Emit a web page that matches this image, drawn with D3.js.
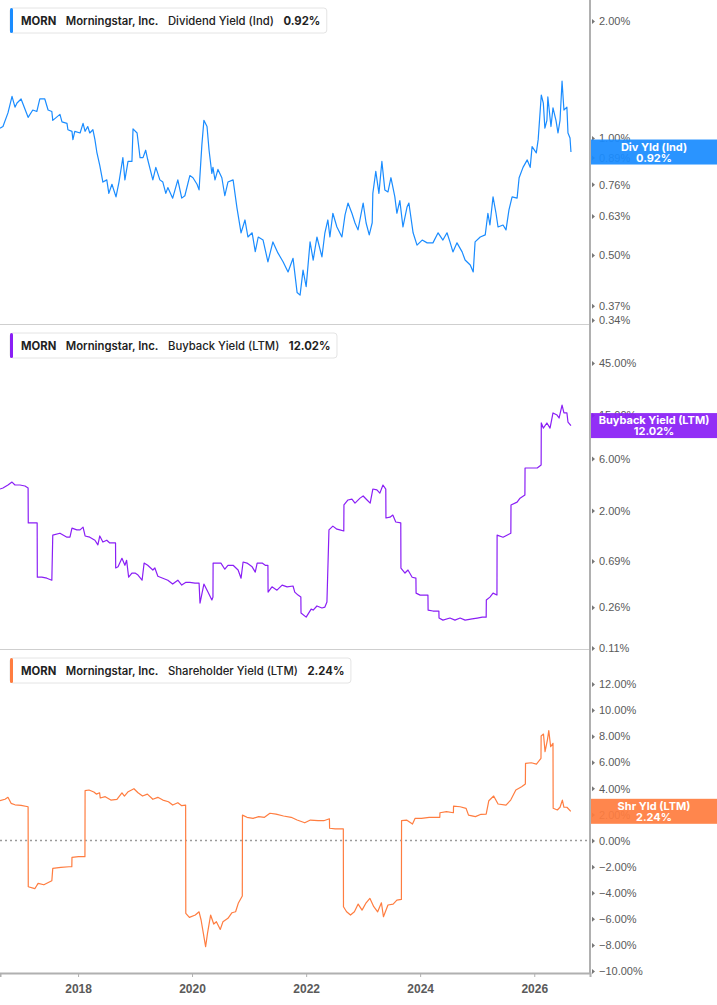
<!DOCTYPE html>
<html lang="en">
<head>
	<meta charset="UTF-8"/>
	<title>MORN Yields</title>
	<script src="https://d3js.org/d3.v7.min.js"></script>
	<style>
		body {
			margin: 0;
			background: #fff;
			font-family: Inter, Roboto, "Noto Sans", sans-serif;
		}
		.tick-label text {
			font-size: 11px;
			fill: #5a5a5a;
		}
		.x-axis text {
			font-size: 12px;
			font-weight: 700;
			fill: #5a5a5a;
		}
		.series {
			fill: none;
			stroke-width: 1.2;
			stroke-linejoin: round;
		}
	</style>
</head>
<body>
<div id="chart"></div>
<script>
	// --- data ----------------------------------------------------------
	var divYield = [
		["2016-08-19",1.06],["2016-09-07",1.07],["2016-10-09",1.16],["2016-11-04",1.28],["2016-11-23",1.20],["2016-12-06",1.23],
		["2017-01-01",1.26],["2017-02-15",1.13],["2017-03-17",1.18],["2017-04-12",1.17],["2017-05-01",1.26],["2017-06-02",1.26],
		["2017-06-23",1.18],["2017-07-17",1.17],["2017-07-23",1.11],["2017-09-07",1.15],["2017-09-20",1.10],["2017-10-22",1.09],
		["2017-10-28",1.05],["2017-11-23",1.04],["2017-11-29",0.99],["2017-12-11",1.04],
		["2018-01-14",1.03],["2018-02-02",1.09],["2018-02-15",1.04],["2018-03-04",1.07],["2018-03-17",1.03],["2018-04-06",1.05],
		["2018-04-19",0.99],["2018-05-01",0.92],["2018-05-20",0.85],["2018-06-09",0.77],["2018-07-04",0.78],["2018-07-17",0.72],
		["2018-08-06",0.76],["2018-09-01",0.705],["2018-09-20",0.77],["2018-10-15",0.89],["2018-10-28",0.78],["2018-11-17",0.87],
		["2018-12-12",0.87],["2018-12-19",1.055],
		["2019-01-14",1.03],["2019-02-02",0.89],["2019-02-21",0.89],["2019-03-10",0.93],["2019-03-23",0.88],["2019-04-25",0.78],
		["2019-05-14",0.84],["2019-06-09",0.78],["2019-06-28",0.77],["2019-07-17",0.72],["2019-07-30",0.745],["2019-08-30",0.70],
		["2019-10-02",0.78],["2019-10-27",0.70],["2019-11-16",0.71],["2019-12-18",0.80],
		["2020-01-07",0.79],["2020-02-02",0.76],["2020-02-15",0.735],["2020-03-04",0.96],["2020-03-17",1.11],["2020-04-06",1.07],
		["2020-04-19",0.93],["2020-05-07",0.81],["2020-05-14",0.84],["2020-05-27",0.78],["2020-06-15",0.83],["2020-07-10",0.79],
		["2020-07-29",0.71],["2020-08-18",0.77],["2020-09-20",0.78],["2020-10-15",0.66],["2020-11-10",0.57],["2020-12-05",0.615],
		["2020-12-24",0.556],
		["2021-01-20",0.57],["2021-02-09",0.51],["2021-02-28",0.556],["2021-03-31",0.546],["2021-05-01",0.48],["2021-06-02",0.54],
		["2021-07-04",0.506],["2021-08-06",0.48],["2021-09-07",0.452],["2021-10-09",0.49],["2021-11-04",0.40],["2021-11-23",0.394],
		["2021-12-12",0.457],
		["2022-01-01",0.414],["2022-01-26",0.54],["2022-02-15",0.485],["2022-03-11",0.556],["2022-04-12",0.494],["2022-05-01",0.57],
		["2022-05-20",0.615],["2022-06-02",0.556],["2022-06-21",0.64],["2022-07-17",0.59],["2022-08-18",0.556],["2022-09-07",0.634],
		["2022-09-26",0.68],["2022-10-21",0.64],["2022-11-10",0.604],["2022-11-29",0.58],
		["2023-01-01",0.68],["2023-01-20",0.604],["2023-02-09",0.563],["2023-02-28",0.605],["2023-03-04",0.72],["2023-03-23",0.82],
		["2023-04-12",0.72],["2023-05-01",0.87],["2023-05-20",0.735],["2023-06-09",0.726],["2023-06-28",0.79],["2023-07-23",0.705],
		["2023-08-05",0.64],["2023-08-24",0.69],["2023-09-13",0.59],["2023-10-09",0.664],["2023-10-21",0.68],["2023-11-17",0.57],
		["2023-12-12",0.53],
		["2024-01-14",0.546],["2024-02-15",0.537],["2024-03-23",0.537],["2024-04-25",0.57],["2024-05-26",0.546],["2024-06-21",0.57],
		["2024-07-10",0.54],["2024-07-29",0.509],["2024-08-24",0.537],["2024-09-26",0.509],["2024-10-15",0.485],["2024-11-17",0.471],
		["2024-12-06",0.452],["2024-12-18",0.54],
		["2025-01-20",0.556],["2025-02-21",0.563],["2025-03-10",0.64],["2025-03-23",0.597],["2025-04-12",0.705],["2025-05-01",0.64],
		["2025-05-14",0.59],["2025-06-15",0.597],["2025-07-04",0.58],["2025-07-23",0.653],["2025-08-12",0.705],["2025-09-13",0.70],
		["2025-09-26",0.79],["2025-10-21",0.84],["2025-11-17",0.878],["2025-12-06",0.84],["2025-12-18",0.95],
		["2026-01-14",0.915],["2026-01-26",0.99],["2026-02-15",1.29],["2026-02-28",1.23],["2026-03-10",1.06],["2026-03-23",1.11],
		["2026-03-29",1.275],["2026-04-18",1.07],["2026-05-01",1.195],["2026-05-20",1.11],["2026-06-02",1.03],["2026-06-15",1.11],
		["2026-06-28",1.40],["2026-07-10",1.18],["2026-07-29",1.20],["2026-08-05",1.03],["2026-08-18",1.00],["2026-08-24",0.92]
	];

	var buybackYield = [
		["2016-08-19",3.15],["2016-09-07",3.22],["2016-10-09",3.43],["2016-11-04",3.65],["2016-11-23",3.43],["2016-12-25",3.43],
		["2017-01-26",3.36],["2017-02-15",3.22],["2017-02-16",1.54],["2017-04-14",1.54],["2017-04-15",0.49],["2017-05-14",0.49],
		["2017-06-15",0.48],["2017-07-17",0.46],["2017-07-23",1.19],["2017-09-07",1.24],["2017-10-22",1.14],["2017-11-10",1.14],
		["2017-11-23",1.38],["2017-12-24",1.33],
		["2018-01-14",1.33],["2018-02-02",1.41],["2018-02-15",1.17],["2018-03-17",1.14],["2018-04-19",1.07],["2018-05-08",0.97],
		["2018-05-20",1.17],["2018-06-09",1.03],["2018-07-04",1.07],["2018-07-23",1.01],["2018-08-29",1.01],["2018-08-30",0.595],
		["2018-09-14",0.61],["2018-10-09",0.73],["2018-10-28",0.63],["2018-11-08",0.70],["2018-11-21",0.49],["2018-12-12",0.535],
		["2019-01-01",0.535],["2019-01-20",0.513],["2019-02-15",0.46],["2019-02-28",0.66],["2019-03-23",0.63],["2019-04-25",0.57],
		["2019-05-08",0.595],["2019-05-27",0.50],["2019-06-28",0.48],["2019-07-30",0.46],["2019-08-30",0.424],["2019-10-02",0.46],
		["2019-10-27",0.415],["2019-11-23",0.44],["2019-12-18",0.44],
		["2020-01-20",0.433],["2020-02-15",0.433],["2020-02-21",0.284],["2020-03-17",0.424],["2020-04-12",0.358],["2020-05-07",0.303],
		["2020-05-14",0.322],["2020-05-15",0.66],["2020-06-15",0.66],["2020-07-04",0.66],["2020-07-29",0.58],["2020-08-18",0.63],
		["2020-09-20",0.63],["2020-10-22",0.57],["2020-11-10",0.48],["2020-11-23",0.675],["2020-12-18",0.66],
		["2021-01-20",0.61],["2021-02-09",0.546],["2021-02-21",0.66],["2021-03-25",0.66],["2021-04-14",0.63],["2021-05-01",0.63],
		["2021-05-02",0.358],["2021-05-27",0.40],["2021-06-28",0.373],["2021-07-31",0.415],["2021-09-01",0.40],["2021-10-09",0.407],
		["2021-10-20",0.358],["2021-11-10",0.336],["2021-11-28",0.322],["2021-11-29",0.23],
		["2022-01-01",0.211],["2022-02-02",0.25],["2022-02-15",0.245],["2022-03-11",0.267],["2022-04-12",0.256],["2022-05-01",0.261],
		["2022-05-14",0.29],["2022-05-27",1.33],["2022-06-21",1.44],["2022-07-17",1.35],["2022-08-05",1.33],["2022-08-30",1.30],
		["2022-08-31",2.25],["2022-09-26",2.50],["2022-10-21",2.55],["2022-11-10",2.34],["2022-12-12",2.60],
		["2023-01-01",2.72],["2023-01-26",2.50],["2023-02-15",2.34],["2023-03-04",3.15],["2023-03-30",3.09],["2023-04-18",2.89],
		["2023-05-08",3.43],["2023-05-26",3.15],["2023-05-27",1.71],["2023-06-22",1.74],["2023-07-10",1.82],["2023-07-29",1.57],
		["2023-08-30",1.54],["2023-08-31",0.595],["2023-09-26",0.535],["2023-10-15",0.57],["2023-11-11",0.49],["2023-12-05",0.48],
		["2023-12-06",0.35],
		["2024-01-01",0.336],["2024-02-20",0.336],["2024-02-21",0.245],["2024-03-23",0.24],["2024-04-30",0.24],["2024-05-01",0.207],
		["2024-05-26",0.198],["2024-07-10",0.207],["2024-08-11",0.198],["2024-09-13",0.207],["2024-10-15",0.198],["2024-11-29",0.203],
		["2025-01-01",0.207],["2025-02-02",0.211],["2025-02-27",0.211],["2025-02-28",0.303],["2025-03-23",0.322],["2025-04-12",0.35],
		["2025-05-07",0.336],["2025-05-08",1.19],["2025-06-15",1.14],["2025-07-10",1.19],["2025-08-04",1.24],["2025-08-05",2.25],
		["2025-09-13",2.39],["2025-10-02",2.60],["2025-11-02",2.78],["2025-11-03",4.91],["2025-12-06",4.91],
		["2026-01-20",4.91],["2026-02-14",5.23],["2026-02-15",12.7],["2026-02-28",11.4],["2026-03-23",12.7],["2026-04-12",11.4],
		["2026-05-01",15.7],["2026-05-27",15.0],["2026-06-09",14.1],["2026-06-28",18.5],["2026-07-10",15.7],["2026-07-29",15.7],
		["2026-08-05",12.96],["2026-08-24",12.02]
	];

	var shareholderYield = [
		["2016-08-19",3.05],["2016-09-20",3.16],["2016-10-09",3.31],["2016-10-29",2.85],["2016-11-23",2.74],
		["2017-01-01",2.70],["2017-02-15",2.59],["2017-02-16",-3.54],["2017-03-30",-3.69],["2017-04-20",-3.28],["2017-05-27",-3.39],
		["2017-07-04",-3.16],["2017-07-17",-3.08],["2017-07-23",-2.13],["2017-09-13",-2.05],["2017-11-04",-2.01],["2017-11-22",-2.01],
		["2017-11-23",-1.29],
		["2018-01-04",-1.24],["2018-02-14",-1.24],["2018-02-15",3.82],["2018-03-12",3.87],["2018-04-12",3.72],["2018-04-28",3.56],
		["2018-05-19",3.66],["2018-05-23",3.26],["2018-06-24",3.36],["2018-07-30",3.10],["2018-09-07",3.16],["2018-10-09",3.66],
		["2018-10-25",3.41],["2018-11-18",3.74],["2018-12-25",3.97],
		["2019-01-20",3.66],["2019-02-18",3.41],["2019-03-21",3.56],["2019-04-25",3.16],["2019-05-27",3.31],["2019-06-28",3.10],
		["2019-08-03",2.97],["2019-08-30",2.72],["2019-10-02",2.90],["2019-10-27",2.67],["2019-11-21",2.72],["2019-11-22",-5.58],
		["2019-12-15",-5.89],
		["2020-01-22",-5.71],["2020-02-15",-5.46],["2020-02-28",-6.09],["2020-03-17",-7.37],["2020-03-28",-8.14],["2020-04-09",-7.11],
		["2020-04-29",-5.71],["2020-05-19",-6.40],["2020-06-05",-6.22],["2020-06-30",-6.81],["2020-07-17",-6.22],["2020-08-18",-5.96],
		["2020-09-13",-5.53],["2020-10-06",-5.46],["2020-10-23",-4.81],["2020-11-18",-4.25],["2020-11-19",1.95],["2020-12-18",1.78],
		["2021-01-26",1.70],["2021-03-03",1.83],["2021-04-09",1.78],["2021-05-14",2.09],["2021-06-22",2.03],["2021-08-09",1.88],
		["2021-09-27",1.78],["2021-11-04",1.57],["2021-12-23",1.36],
		["2022-01-28",1.57],["2022-03-18",1.52],["2022-04-24",1.52],["2022-05-30",1.67],["2022-05-31",0.94],["2022-07-06",0.90],
		["2022-08-27",0.90],["2022-08-28",-5.07],["2022-09-17",-5.46],["2022-10-12",-5.71],["2022-11-06",-5.46],["2022-11-30",-4.87],
		["2022-12-25",-5.33],
		["2023-01-20",-4.77],["2023-02-13",-4.43],["2023-03-10",-5.07],["2023-04-04",-5.46],["2023-04-28",-4.77],["2023-05-11",-5.84],
		["2023-06-09",-4.94],["2023-07-12",-4.87],["2023-08-05",-4.56],["2023-09-03",-4.51],["2023-09-04",1.52],["2023-10-06",1.57],
		["2023-11-13",1.26],["2023-11-30",1.70],
		["2024-01-10",1.70],["2024-02-28",1.78],["2024-05-06",1.78],["2024-05-07",2.13],["2024-06-18",2.21],["2024-08-01",2.13],
		["2024-08-02",2.64],["2024-09-13",2.59],["2024-10-21",2.47],["2024-11-06",1.95],["2024-12-20",1.83],
		["2025-01-25",2.01],["2025-02-27",2.03],["2025-03-16",3.05],["2025-04-16",3.41],["2025-05-14",2.80],["2025-07-04",2.72],
		["2025-08-03",3.10],["2025-09-05",3.87],["2025-10-12",4.12],["2025-11-05",4.33],["2025-11-06",5.92],["2025-12-13",5.96],
		["2026-01-15",5.86],["2026-02-13",6.30],["2026-02-14",8.01],["2026-03-01",8.16],["2026-03-11",6.81],["2026-03-26",7.70],
		["2026-04-04",8.42],["2026-04-16",7.19],["2026-05-01",7.45],["2026-05-02",2.47],["2026-05-29",2.34],["2026-06-15",2.55],
		["2026-06-30",3.10],["2026-07-10",2.55],["2026-07-29",2.55],["2026-08-23",2.24]
	];

	var divTicks = [2.00, 1.00, 0.89, 0.76, 0.63, 0.50, 0.37, 0.34];
	var buybackTicks = [45, 15, 6, 2, 0.69, 0.26, 0.11];
	var shareholderTicks = [12, 10, 8, 6, 4, 2, 0, -2, -4, -6, -8, -10];
	var yearTicks = ["2018", "2020", "2022", "2024", "2026"];

	var legendDiv = ["MORN", "Morningstar, Inc.", "Dividend Yield (Ind)", "0.92%"];
	var legendBuyback = ["MORN", "Morningstar, Inc.", "Buyback Yield (LTM)", "12.02%"];
	var legendShareholder = ["MORN", "Morningstar, Inc.", "Shareholder Yield (LTM)", "2.24%"];

	var badgeDiv = ["Div Yld (Ind)", "0.92%"];
	var badgeBuyback = ["Buyback Yield (LTM)", "12.02%"];
	var badgeShareholder = ["Shr Yld (LTM)", "2.24%"];

	// --- layout ----------------------------------------------------------
	var w = 717;
	var h = 1005;
	var plotRight = 590;
	var parseDate = d3.timeParse("%Y-%m-%d");

	var svg = d3.select("#chart")
				.append("svg")
				.attr("width", w)
				.attr("height", h);

	var xScale = d3.scaleTime()
					.domain([parseDate("2016-08-19"), parseDate("2026-12-24")])
					.range([0, plotRight]);

	var panels = [
		{
			data: divYield, color: "#1a8cff", top: 0, bottom: 324,
			y: d3.scaleLog().domain([0.332, 2.265]).range([324, 0]),
			ticks: divTicks, legend: legendDiv, badge: badgeDiv
		},
		{
			data: buybackYield, color: "#8a1ff5", top: 325, bottom: 649,
			y: d3.scaleLog().domain([0.1077, 100.4]).range([649, 325]),
			ticks: buybackTicks, legend: legendBuyback, badge: badgeBuyback
		},
		{
			data: shareholderYield, color: "#ff7d40", top: 650, bottom: 973,
			y: d3.scaleLinear().domain([-10.15, 14.6]).range([973, 650]),
			ticks: shareholderTicks, legend: legendShareholder, badge: badgeShareholder, zero: true
		}
	];

	// panel separators
	svg.selectAll(".sep")
		.data([324.5, 649.5])
		.enter()
		.append("line")
		.attr("x1", 0)
		.attr("x2", plotRight)
		.attr("y1", function(d){ return d; })
		.attr("y2", function(d){ return d; })
		.attr("stroke", "#cfcfcf")
		.attr("stroke-width", 1);

	panels.forEach(function(p, i){
		var yScale = p.y;

		if (p.zero) {
			svg.append("line")
				.attr("x1", 0)
				.attr("x2", plotRight)
				.attr("y1", yScale(0))
				.attr("y2", yScale(0))
				.attr("stroke", "#9a9a9a")
				.attr("stroke-width", 1.4)
				.attr("stroke-dasharray", "2,3");
		}

		var line = d3.line()
					.x(function(d){ return xScale(parseDate(d[0])); })
					.y(function(d){ return yScale(d[1]); });

		svg.append("path")
			.datum(p.data)
			.attr("class", "series")
			.attr("stroke", p.color)
			.attr("d", line);

		// right axis
		var axis = d3.axisRight(yScale)
					.tickValues(p.ticks)
					.tickSize(0)
					.tickPadding(9)
					.tickFormat(function(d){ return d3.format(".2f")(d) + "%"; });

		var ag = svg.append("g")
					.attr("class", "tick-label")
					.attr("transform", "translate(" + plotRight + ",0)")
					.call(axis);
		ag.select(".domain").remove();
		ag.selectAll(".tick text").attr("dy", "0.34em");
		ag.selectAll(".tick")
			.append("path")
			.attr("d", "M2,-2.5L5,0L2,2.5Z")
			.attr("fill", "#777");

		// legend box
		var lg = svg.append("g")
					.attr("transform", "translate(10," + (p.top + 8) + ")");
		var box = lg.append("rect")
					.attr("y", 0)
					.attr("height", 25)
					.attr("rx", 3)
					.attr("fill", "#fff")
					.attr("stroke", "#e4e4e4");
		var weights = [700, 600, 500, 700];
		var tx = 11;
		p.legend.forEach(function(t, j){
			var txt = lg.append("text")
						.attr("x", tx)
						.attr("y", 17)
						.attr("font-size", "11.3px")
						.attr("font-weight", weights[j])
						.attr("fill", "#222")
						.text(t);
			tx += txt.node().getComputedTextLength() + 9.5;
		});
		box.attr("width", tx - 3);
		lg.append("rect")
			.attr("width", 3)
			.attr("height", 25)
			.attr("rx", 1.5)
			.attr("fill", p.color);

		// last value badge
		var last = p.data[p.data.length - 1];
		var cy = yScale(last[1]);
		var bg = svg.append("g");
		bg.append("rect")
			.attr("x", plotRight)
			.attr("y", cy - 12.5)
			.attr("width", w - plotRight)
			.attr("height", 25)
			.attr("fill", p.color)
			.attr("fill-opacity", 0.93);
		bg.selectAll("text")
			.data(p.badge)
			.enter()
			.append("text")
			.attr("x", (plotRight + w) / 2 + 0.5)
			.attr("y", function(d, k){ return cy - 1.5 + k * 11; })
			.attr("text-anchor", "middle")
			.attr("font-size", "11px")
			.attr("font-weight", 700)
			.attr("fill", "#fff")
			.text(function(d){ return d; });
	});

	// bottom date axis
	var xAxis = d3.axisBottom(xScale)
					.tickValues(yearTicks.map(function(y){ return parseDate(y + "-01-01"); }))
					.tickFormat(d3.timeFormat("%Y"))
					.tickSize(4)
					.tickPadding(7);

	var xg = svg.append("g")
				.attr("class", "x-axis")
				.attr("transform", "translate(0,973)")
				.call(xAxis);
	xg.select(".domain").attr("stroke", "#b0b0b0").attr("stroke-width", 2);
	xg.selectAll(".tick line").attr("stroke", "#b0b0b0");

	// right axis spine
	svg.append("line")
		.attr("x1", plotRight)
		.attr("x2", plotRight)
		.attr("y1", 0)
		.attr("y2", 974)
		.attr("stroke", "#b0b0b0")
		.attr("stroke-width", 2);
</script>
</body>
</html>
